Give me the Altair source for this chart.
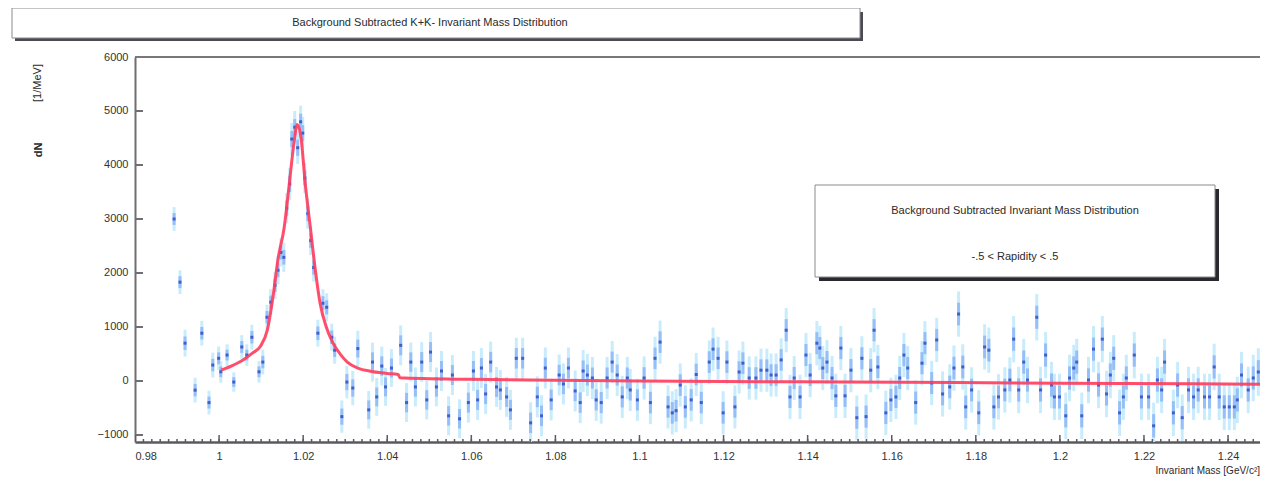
import altair as alt
import pandas as pd

# background subtracted K+K- invariant mass histogram
# mass in GeV/c^2, counts per MeV, half length of the error bar
mass = [
    0.9893, 0.9907, 0.9919, 0.9943, 0.9959, 0.9976, 0.9985, 0.9999, 1.0004, 1.0019,
    1.0035, 1.0054, 1.0066, 1.0078, 1.0095, 1.0104, 1.0114, 1.0123, 1.0133, 1.0140,
    1.0147, 1.0154, 1.0161, 1.0168, 1.0173, 1.0180, 1.0187, 1.0194, 1.0199, 1.0204,
    1.0211, 1.0218, 1.0225, 1.0235, 1.0247, 1.0256, 1.0268, 1.0275, 1.0292, 1.0304,
    1.0318, 1.0330, 1.0356, 1.0365, 1.0375, 1.0387, 1.0396, 1.0410, 1.0432, 1.0446,
    1.0456, 1.0467, 1.0482, 1.0494, 1.0503, 1.0517, 1.0529, 1.0546, 1.0555, 1.0572,
    1.0593, 1.0605, 1.0615, 1.0624, 1.0634, 1.0646, 1.0660, 1.0669, 1.0684, 1.0693,
    1.0707, 1.0722, 1.0741, 1.0757, 1.0767, 1.0776, 1.0790, 1.0809, 1.0819, 1.0831,
    1.0847, 1.0859, 1.0866, 1.0876, 1.0888, 1.0897, 1.0909, 1.0923, 1.0935, 1.0947,
    1.0959, 1.0971, 1.0978, 1.0995, 1.1011, 1.1026, 1.1037, 1.1049, 1.1068, 1.1078,
    1.1087, 1.1097, 1.1109, 1.1123, 1.1135, 1.1147, 1.1166, 1.1175, 1.1187, 1.1199,
    1.1208, 1.1227, 1.1237, 1.1246, 1.1261, 1.1277, 1.1289, 1.1303, 1.1313, 1.1325,
    1.1337, 1.1349, 1.1358, 1.1368, 1.1382, 1.1396, 1.1406, 1.1422, 1.1429, 1.1436,
    1.1446, 1.1458, 1.1467, 1.1479, 1.1489, 1.1503, 1.1517, 1.1529, 1.1539, 1.1550,
    1.1558, 1.1567, 1.1586, 1.1598, 1.1610, 1.1619, 1.1629, 1.1638, 1.1657, 1.1672,
    1.1679, 1.1695, 1.1707, 1.1721, 1.1738, 1.1748, 1.1759, 1.1769, 1.1776, 1.1790,
    1.1807, 1.1821, 1.1831, 1.1843, 1.1854, 1.1869, 1.1881, 1.1890, 1.1902, 1.1914,
    1.1923, 1.1945, 1.1954, 1.1966, 1.1980, 1.1987, 1.1999, 1.2014, 1.2023, 1.2033,
    1.2040, 1.2052, 1.2068, 1.2080, 1.2092, 1.2101, 1.2111, 1.2120, 1.2128, 1.2142,
    1.2151, 1.2158, 1.2177, 1.2194, 1.2211, 1.2223, 1.2232, 1.2242, 1.2249, 1.2270,
    1.2280, 1.2291, 1.2306, 1.2318, 1.2329, 1.2344, 1.2356, 1.2367, 1.2379, 1.2391,
    1.2403, 1.2415, 1.2422, 1.2432, 1.2448, 1.2460, 1.2472,
]
counts = [
    3000, 1830, 700, -170, 885, -400, 295, 420, 170, 480,
    -20, 630, 480, 810, 170, 350, 1180, 1460, 1770, 2050,
    2380, 2290, 3200, 3650, 4480, 4700, 4320, 4800, 4590, 3760,
    3100, 2600, 2100, 885, 1440, 1365, 810, 570, -660, -20,
    -130, 600, -535, 350, -295, 277, -110, 240, 660, -400,
    350, -110, 350, -350, 535, -110, 185, -645, 110, -700,
    -400, 185, -350, 240, -240, 350, -110, -166, -295, -535,
    420, 420, -775, -295, -645, 240, -350, 110, -55, 240,
    -185, -400, 185, 110, 55, -350, -400, 55, 350, 110,
    -295, 55, -166, -350, 55, -400, 420, 720, -480, -590,
    -550, -75, -480, -350, 120, -400, 350, 590, 420, -590,
    350, -480, 166, 330, 55, 55, 200, 200, 110, 110,
    390, 940, -295, 55, -295, 480, 110, 700, 610, 240,
    350, 55, -275, 610, -275, 200, -680, 420, -660, 200,
    940, 260, -590, -350, -295, 55, 480, 240, -400, 330,
    700, -37, 760, -240, -110, 240, 1240, 260, -480, -166,
    -590, 630, 570, -480, -295, -166, 18, 775, -166, 350,
    18, 1180, -166, 480, -75, -295, -295, -645, 55, 240,
    350, -645, 18, 590, -75, 775, -240, 110, 420, -590,
    -295, 55, 480, -295, -295, -830, 18, -166, 350, -590,
    -75, -680, -166, -295, -166, -295, -295, 260, -295, -480,
    -480, -480, -350, 110, -166, 55, 166,
]
errors = [
    220, 220, 250, 230, 230, 220, 230, 220, 200, 200,
    180, 220, 200, 230, 200, 230, 230, 240, 250, 260,
    260, 270, 280, 300, 300, 300, 300, 300, 300, 280,
    280, 270, 260, 250, 260, 260, 250, 250, 300, 300,
    320, 330, 350, 360, 350, 360, 350, 350, 370, 360,
    360, 360, 370, 360, 370, 360, 370, 360, 370, 360,
    370, 370, 370, 370, 370, 380, 370, 370, 370, 370,
    380, 380, 380, 380, 380, 380, 380, 380, 380, 380,
    380, 380, 390, 390, 390, 390, 390, 390, 390, 390,
    390, 390, 390, 390, 400, 400, 400, 400, 400, 400,
    400, 400, 400, 400, 400, 400, 400, 400, 400, 400,
    400, 400, 400, 400, 400, 400, 400, 400, 400, 400,
    400, 410, 410, 410, 410, 410, 410, 410, 410, 410,
    410, 410, 410, 410, 410, 410, 410, 410, 410, 410,
    410, 410, 410, 410, 410, 410, 410, 410, 410, 410,
    410, 410, 410, 420, 420, 420, 420, 420, 420, 420,
    420, 420, 420, 420, 420, 420, 420, 430, 430, 430,
    430, 430, 430, 430, 430, 430, 430, 430, 430, 430,
    430, 430, 430, 430, 430, 430, 430, 430, 430, 430,
    430, 430, 430, 430, 430, 430, 430, 430, 430, 430,
    430, 430, 430, 430, 430, 430, 430, 430, 430, 430,
    430, 430, 430, 430, 430, 430, 440,
]

# fitted Breit-Wigner curve, sampled from the red line in the picture
fit_mass = [
    1.0005, 1.0030, 1.0057, 1.0080, 1.0098, 1.0115, 1.0129, 1.0140, 1.0155, 1.0167,
    1.0178, 1.0186, 1.0195, 1.0205, 1.0217, 1.0229, 1.0240, 1.0255, 1.0271, 1.0290,
    1.0305, 1.0330, 1.0360, 1.0400, 1.0426, 1.0430, 1.0600, 1.0800, 1.1000, 1.1500,
    1.2000, 1.2476,
]
fit_counts = [
    200, 280, 390, 520, 640, 950, 1600, 2250, 2850, 3650,
    4400, 4750, 4500, 3650, 2850, 2050, 1450, 1000, 700, 480,
    350, 240, 180, 140, 120, 60, 30, 15, 0, -20,
    -40, -60,
]

y_ticks = [-1000, 0, 1000, 2000, 3000, 4000, 5000, 6000]
x_major = [0.98, 1.0, 1.02, 1.04, 1.06, 1.08, 1.1, 1.12, 1.14, 1.16, 1.18, 1.2, 1.22, 1.24]
x_minor = [round(0.98 + 0.002 * i, 3) for i in range(134)]

TITLE = "Background Subtracted K+K- Invariant Mass Distribution"
LEGEND_LINES = ["Background Subtracted Invariant Mass Distribution", "-.5 < Rapidity < .5"]

W, H = 1125, 385
FONT = "Liberation Sans"
AXIS_GREY = "#6e6e73"

xs = alt.Scale(domain=[0.98, 1.2476], nice=False, zero=False)
ys = alt.Scale(domain=[-1130, 6000], nice=False, zero=False)

hist = pd.DataFrame({"m": mass, "n": counts, "e": errors})
fit = pd.DataFrame({"m": fit_mass, "n": fit_counts})
one = pd.DataFrame({"a": [0]})

base = alt.Chart(hist).transform_calculate(
    lo="datum.n - datum.e",
    hi="datum.n + datum.e",
    lo2="datum.n - datum.e / 2",
    hi2="datum.n + datum.e / 2",
)

outer_bars = base.mark_rule(color="#c9ecfd", strokeWidth=3, clip=True).encode(
    x=alt.X("m:Q", scale=xs, axis=alt.Axis(
        values=x_major, format="~g", ticks=False, grid=False, title=None,
        labelFont=FONT, labelFontSize=11, labelColor="#333", labelPadding=8,
        domainColor="#5a5a60", domainWidth=2.5,
    )),
    y=alt.Y("lo:Q", scale=ys, axis=alt.Axis(
        values=y_ticks, format="d", ticks=False, grid=False, title=None,
        labelFont=FONT, labelFontSize=11, labelColor="#333", labelPadding=7,
        domainColor=AXIS_GREY, domainWidth=2,
    )),
    y2="hi:Q",
)

inner_bars = base.mark_rule(color="#95bff6", strokeWidth=3, clip=True).encode(
    x=alt.X("m:Q", scale=xs),
    y=alt.Y("lo2:Q", scale=ys),
    y2="hi2:Q",
)

markers = base.mark_square(size=9, color="#3653c9", opacity=0.9, clip=True).encode(
    x=alt.X("m:Q", scale=xs),
    y=alt.Y("n:Q", scale=ys),
)

fit_line = alt.Chart(fit).mark_line(
    color="#ff3b5c", strokeWidth=3, interpolate="monotone", opacity=0.9, clip=True
).encode(
    x=alt.X("m:Q", scale=xs),
    y=alt.Y("n:Q", scale=ys),
)

# ticks point into the frame, as in the original
y_tick_marks = alt.Chart(pd.DataFrame({"v": y_ticks})).mark_rule(
    color=AXIS_GREY, strokeWidth=2
).encode(y=alt.Y("v:Q", scale=ys), x=alt.value(0), x2=alt.value(8))

x_minor_marks = alt.Chart(pd.DataFrame({"v": x_minor})).mark_rule(
    color="#5a5a60", strokeWidth=1.5, clip=True
).encode(x=alt.X("v:Q", scale=xs), y=alt.value(H), y2=alt.value(H - 3))

x_major_marks = alt.Chart(pd.DataFrame({"v": x_major})).mark_rule(
    color="#5a5a60", strokeWidth=1.5, clip=True
).encode(x=alt.X("v:Q", scale=xs), y=alt.value(H), y2=alt.value(H - 7))

top_frame = alt.Chart(one).mark_rule(color="#77777c", strokeWidth=2).encode(
    x=alt.value(0), x2=alt.value(W), y=alt.value(0)
)

# title box with its shadow
title_shadow = alt.Chart(one).mark_rect(color="#4a4a50").encode(
    x=alt.value(-120), x2=alt.value(728), y=alt.value(-45), y2=alt.value(-16)
)
title_box = alt.Chart(one).mark_rect(fill="white", stroke="#8a8a90", strokeWidth=1).encode(
    x=alt.value(-123), x2=alt.value(725), y=alt.value(-49), y2=alt.value(-19)
)
title_text = alt.Chart(pd.DataFrame({"t": [TITLE]})).mark_text(
    font=FONT, fontSize=11, color="#2a2a2a", align="center", baseline="middle"
).encode(text="t:N", x=alt.value(295), y=alt.value(-34))

# statistics box at the right
legend_shadow = alt.Chart(one).mark_rect(color="#2a2a2e").encode(
    x=alt.value(684), x2=alt.value(1084), y=alt.value(132), y2=alt.value(224)
)
legend_box = alt.Chart(one).mark_rect(fill="white", stroke="#8a8a90", strokeWidth=1).encode(
    x=alt.value(680), x2=alt.value(1080), y=alt.value(128), y2=alt.value(220)
)
legend_l1 = alt.Chart(pd.DataFrame({"t": [LEGEND_LINES[0]]})).mark_text(
    font=FONT, fontSize=11, color="#2a2a2a", align="center", baseline="middle"
).encode(text="t:N", x=alt.value(880), y=alt.value(154))
legend_l2 = alt.Chart(pd.DataFrame({"t": [LEGEND_LINES[1]]})).mark_text(
    font=FONT, fontSize=11, color="#2a2a2a", align="center", baseline="middle"
).encode(text="t:N", x=alt.value(880), y=alt.value(200))

# axis titles, placed like the ROOT canvas does it
y_title = alt.Chart(pd.DataFrame({"t": ["[1/MeV]"]})).mark_text(
    font=FONT, fontSize=11, color="#2a2a2a", angle=270, align="center", baseline="middle"
).encode(text="t:N", x=alt.value(-97), y=alt.value(26))
y_title2 = alt.Chart(pd.DataFrame({"t": ["dN"]})).mark_text(
    font=FONT, fontSize=11, fontWeight="bold", color="#2a2a2a", angle=270,
    align="center", baseline="middle"
).encode(text="t:N", x=alt.value(-96), y=alt.value(93))
x_title = alt.Chart(pd.DataFrame({"t": ["Invariant Mass [GeV/c\u00b2]"]})).mark_text(
    font=FONT, fontSize=10, color="#2a2a2a", align="right", baseline="middle"
).encode(text="t:N", x=alt.value(W), y=alt.value(414))

chart = alt.layer(
    outer_bars, inner_bars, markers, fit_line,
    y_tick_marks, x_minor_marks, x_major_marks, top_frame,
    title_shadow, title_box, title_text,
    legend_shadow, legend_box, legend_l1, legend_l2,
    y_title, y_title2, x_title,
).properties(
    width=W,
    height=H,
    autosize=alt.AutoSizeParams(type="none"),
    padding={"left": 127, "top": 49, "right": 0, "bottom": 36},
).configure_view(stroke=None).configure(background="white")

chart.save("out.html", embed_options={"renderer": "svg", "actions": False})
